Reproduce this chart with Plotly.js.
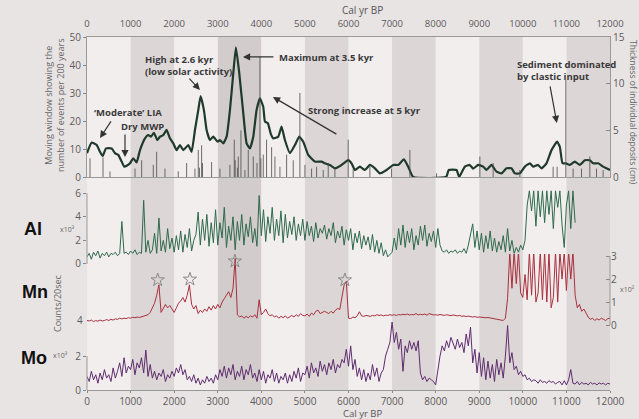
<!DOCTYPE html>
<html><head><meta charset="utf-8">
<script src="https://cdn.plot.ly/plotly-3.0.1.min.js"></script>
<style>html,body{margin:0;padding:0;background:#e9e4e4;}#chart{width:639px;height:419px;}</style>
</head><body><div id="chart"></div>
<script>
// ---------- DATA ----------
const tickYears = [0,1000,2000,3000,4000,5000,6000,7000,8000,9000,10000,11000,12000];
const tickLabels = ['0','1000','2000','3000','4000','5000','6000','7000','8000','9000','10000','11000','12000'];
const bandStarts = [1000,3000,5000,7000,9000,11000];
const lightStarts = [0,2000,4000,6000,8000,10000];

// Moving window: number of events per 200 years
const evYears = [0,107,222,298,360,436,566,642,718,795,855,910,986,1062,1138,1216,1330,1406,1468,1536,1613,1675,1750,1826,1903,1980,2056,2133,2209,2324,2400,2477,2553,2607,2683,2744,2821,2897,2998,3050,3127,3203,3280,3356,3417,3494,3586,3662,3738,3815,3891,3967,4044,4083,4151,4213,4274,4388,4464,4541,4656,4771,4870,4962,5076,5229,5382,5459,5573,5688,5841,5993,6070,6147,6261,6376,6491,6606,6720,6873,7026,7140,7271,7370,7484,8240,8300,8478,8540,8670,8784,8860,8975,9090,9167,9281,9396,9511,9625,9740,9817,9931,10046,10161,10238,10350,10428,10543,10658,10787,10849,10910,10986,11078,11193,11307,11422,11537,11613,11728,11842,11919,12000];
const evValues = [8.5,12.3,11.4,9,7.5,10.2,10.2,8.5,7.9,5.5,3.7,4,4.9,6.7,5.2,9.6,13.8,15,14.4,15.8,13.2,14.4,15,16.8,13.8,12,9.6,11.4,9.6,11.4,9,16.8,23.9,28.9,23.9,16.8,13.2,14.4,12.6,13.2,12,14.4,23.9,37,46.3,37,22.7,12,10.2,14.4,23.9,28.1,25.1,19.8,19.2,15.6,13.8,14.4,18,13.2,8.5,11.4,14.4,12.6,7.9,5.5,5.5,4.9,4.3,3.1,4.3,6,4.9,2.5,3.7,2.5,4.3,3.1,1.3,2.5,4.3,4.3,6.3,3.7,0,0,2.5,2.5,0,3.7,4.3,3,4.3,3.7,2.5,4.3,1.9,1.3,3.1,3.1,1.3,1.3,3.7,4.9,3.7,4.3,3.1,4.9,9.6,12.6,10.8,4.9,4.9,4.3,5.5,4.3,6,6,4.9,4.9,3.7,3.1,2.5];

// Thickness of individual deposits (cm)
const depYears = [69,367,527,1101,1254,1521,1598,1789,2094,2286,2477,2553,2580,2630,2650,2859,3050,3280,3379,3400,3450,3471,3532,3624,3700,3815,3900,3968,3990,4044,4120,4236,4312,4427,4580,4732,4885,5000,5153,5268,5420,5535,5688,5993,6108,6491,6988,7408,8020,9014,9319,9931,10695,10787,10986,11154,11346,11537,11690,11842];
const depCm = [2.0,2.1,0.6,0.9,1.8,1.3,2.7,0.9,0.6,1.5,0.9,2.9,1.0,3.4,1.5,1.6,0.9,1.3,4.0,1.8,1.0,2.2,5.0,0.75,2.9,2.2,1.5,12.9,2.0,2.4,4.0,3.2,2.2,1.1,2.4,1.8,9.0,1.3,0.9,1.1,0.75,1.5,0.9,4.0,0.9,1.1,0.9,2.9,0.4,2.2,1.5,0.75,1.1,1.1,10.4,0.9,0.9,2.2,0.9,0.75];

// XRF scans (counts/20sec)
const scanYears = [
0,50,100,150,200,250,300,350,400,450,
500,550,600,650,700,750,800,850,900,950,
1000,1050,1100,1150,1200,1250,1300,1350,1400,1450,
1500,1550,1600,1650,1700,1750,1800,1850,1900,1950,
2000,2050,2100,2150,2200,2250,2300,2350,2400,2450,
2500,2550,2600,2650,2700,2750,2800,2850,2900,2950,
3000,3050,3100,3150,3200,3250,3300,3350,3400,3450,
3500,3550,3600,3650,3700,3750,3800,3850,3900,3950,
4000,4050,4100,4150,4200,4250,4300,4350,4400,4450,
4500,4550,4600,4650,4700,4750,4800,4850,4900,4950,
5000,5050,5100,5150,5200,5250,5300,5350,5400,5450,
5500,5550,5600,5650,5700,5750,5800,5850,5900,5950,
6000,6050,6100,6150,6200,6250,6300,6350,6400,6450,
6500,6550,6600,6650,6700,6750,6800,6850,6900,6950,
7000,7050,7100,7150,7200,7250,7300,7350,7400,7450,
7500,7550,7600,7650,7700,7750,7800,7850,7900,7950,
8000,8050,8100,8150,8200,8250,8300,8350,8400,8450,
8500,8550,8600,8650,8700,8750,8800,8850,8900,8950,
9000,9050,9100,9150,9200,9250,9300,9350,9400,9450,
9500,9550,9600,9650,9700,9750,9800,9850,9900,9950,
10000,10050,10100,10150,10200,10250,10300,10350,10400,10450,
10500,10550,10600,10650,10700,10750,10800,10850,10900,10950,
11000,11050,11100,11150,11200,11250,11300,11350,11400,11450,
11500,11550,11600,11650,11700,11750,11800,11850,11900,11950,
12000];
const alValues = [
0.6,0.9,0.4,1.0,0.7,1.1,0.5,0.9,0.7,1.0,
0.6,0.9,0.8,1.0,0.7,0.9,3.6,0.9,1.0,0.8,
1.1,0.9,1.2,0.8,1.0,0.9,5.4,1.0,2.0,0.9,
1.2,2.6,0.9,3.9,1.1,2.0,1.0,3.0,1.3,2.2,
1.0,2.4,1.2,2.8,1.0,2.5,1.4,3.0,1.1,2.0,
2.5,4.4,1.6,3.8,2.0,4.2,1.5,3.5,1.8,4.6,
1.6,3.5,2.2,4.8,1.4,3.2,2.0,4.0,1.2,3.6,
2.0,4.2,1.6,3.4,2.3,4.0,1.8,3.0,1.5,5.8,
2.4,4.6,1.9,4.0,2.6,4.8,2.0,3.8,2.4,4.5,
1.8,4.2,2.2,3.6,2.5,4.0,2.0,3.4,2.4,3.8,
2.0,3.6,2.4,3.2,1.9,3.5,2.2,3.0,2.6,3.3,
2.1,3.0,2.4,3.5,1.8,2.8,2.2,3.2,1.6,2.9,
2.0,3.0,1.2,2.6,1.8,2.8,1.3,2.4,1.6,2.3,
1.2,2.5,1.0,2.0,0.9,1.8,0.7,1.2,0.6,0.8,
1.0,2.2,1.2,3.0,1.6,3.3,1.4,2.8,1.8,3.0,
1.2,2.4,1.6,3.2,2.0,3.3,1.5,2.6,1.9,2.8,
1.4,3.0,1.6,1.1,1.0,1.2,0.9,1.1,1.0,1.2,
0.9,1.1,1.0,1.3,0.9,1.6,2.4,3.4,1.4,2.8,
1.2,2.6,1.0,2.4,1.3,2.8,1.1,2.2,1.0,1.9,
1.2,2.4,1.0,3.0,1.1,2.0,0.9,1.4,1.0,1.6,
1.2,2.0,5.0,6.2,4.5,6.2,3.2,6.2,4.0,6.2,
3.5,6.2,4.2,6.2,3.0,6.2,4.8,6.2,3.3,1.4,
5.0,6.2,3.0,6.2,3.5,null,null,null,null,null,
null,null,null,null,null,null,null,null,null,null,
null];
const mnValues = [
0.2,0.18,0.22,0.15,0.2,0.17,0.22,0.18,0.2,0.24,
0.2,0.25,0.22,0.27,0.25,0.3,0.27,0.3,0.28,0.32,
0.3,0.34,0.32,0.35,0.33,0.36,0.38,0.4,0.45,0.55,
0.75,0.95,1.3,1.75,0.55,0.7,0.9,0.75,0.85,0.7,
0.55,0.75,0.95,1.05,1.2,1.0,1.3,1.75,0.9,0.7,
0.85,0.5,0.65,0.55,0.7,0.6,0.8,0.65,0.85,0.7,
0.9,0.75,1.0,1.15,1.3,1.45,1.2,1.6,2.9,0.45,
0.35,0.4,0.3,0.38,0.32,0.4,0.35,0.45,0.3,1.1,
0.45,0.55,0.7,0.5,0.4,0.45,0.35,0.4,0.3,0.38,
0.32,0.4,0.3,0.36,0.42,0.35,0.45,0.38,0.5,0.42,
0.4,0.48,0.38,0.52,0.45,0.6,0.65,0.5,0.55,0.6,
0.55,0.5,0.6,0.52,0.65,0.72,0.68,1.3,1.75,1.9,
0.3,0.28,0.35,0.32,0.4,0.58,0.4,0.38,0.42,0.4,
0.38,0.42,0.4,0.45,0.42,0.44,0.4,0.43,0.42,0.45,
0.43,0.45,0.42,0.46,0.44,0.47,0.45,0.48,0.44,0.46,
0.45,0.5,0.44,0.47,0.45,0.48,0.43,0.5,0.46,0.44,
0.45,0.43,0.46,0.44,0.42,0.45,0.43,0.41,0.44,0.42,
0.4,0.42,0.38,0.4,0.37,0.39,0.36,0.35,0.37,0.34,
0.35,0.33,0.34,0.32,0.33,0.31,0.32,0.3,0.28,0.26,
0.22,0.2,0.3,1.16,3.2,1.6,3.2,1.8,3.2,1.4,
1.2,2.2,1.1,3.2,1.3,3.2,1.0,1.4,3.2,1.1,
3.2,1.0,3.2,0.75,1.2,3.2,1.0,3.2,2.0,3.2,
1.5,3.2,2.0,3.2,1.3,0.75,0.9,0.6,0.7,0.5,
0.35,0.25,0.3,0.2,0.28,0.22,0.3,0.25,0.2,0.28,
0.3];
const moValues = [
0.8,0.5,1.1,0.6,0.9,0.4,1.0,0.6,1.2,0.7,
0.9,0.5,1.3,0.7,1.1,1.6,0.8,1.9,1.0,1.4,
1.2,1.8,0.9,1.6,1.3,1.9,1.0,2.35,0.8,1.5,
0.7,1.1,0.6,1.0,0.8,1.2,0.5,0.9,0.7,1.1,
0.8,1.3,1.0,1.5,0.9,1.2,0.6,0.8,0.5,0.9,
0.4,0.7,0.3,0.6,0.4,0.8,0.5,0.7,0.4,0.9,
0.6,1.2,0.8,1.4,0.7,1.3,0.9,1.5,0.6,1.1,
0.8,1.4,0.6,1.2,0.9,1.5,0.7,1.0,0.5,1.2,
0.6,1.1,0.4,0.9,0.7,1.2,0.5,1.0,0.4,0.8,
0.6,1.0,0.4,0.9,0.5,1.1,0.7,1.3,0.5,1.0,
0.9,1.4,0.7,1.6,1.0,1.3,0.8,1.7,1.1,1.5,
0.9,1.6,1.2,1.8,1.0,1.5,1.3,1.8,1.6,2.4,
1.4,2.6,1.2,1.8,0.8,1.3,0.6,1.2,0.5,1.0,
0.6,1.5,0.8,1.3,0.5,1.0,1.2,2.0,2.4,2.8,
4.0,2.8,3.4,2.4,3.0,1.1,2.6,2.2,2.9,2.4,
2.8,2.3,2.9,1.0,0.6,0.8,0.5,0.7,0.6,0.5,
0.3,1.2,2.0,2.6,2.3,2.9,2.5,3.1,2.7,2.4,
3.0,2.5,2.8,2.2,3.3,2.6,3.7,1.6,2.4,1.0,
2.2,0.8,1.9,0.6,1.7,0.7,1.5,0.5,1.8,0.9,
1.6,0.7,2.0,3.8,1.6,2.2,1.2,1.4,0.9,1.1,
0.8,0.9,0.6,0.7,0.5,0.6,0.55,0.4,0.6,0.45,
0.5,0.4,0.55,0.45,0.5,0.35,0.45,0.5,0.3,0.55,
0.3,0.6,1.2,0.4,0.35,0.5,0.3,0.45,0.35,0.4,
0.3,0.45,0.35,0.4,0.3,0.42,0.35,0.4,0.3,0.4,
0.35];

// Mn peaks marked with stars
const starYears = [1622,2362,3394,5917];
const starMn = [1.96,1.99,2.78,1.96];

// ---------- CHART ----------
const W = 639, H = 419;
const fx = p => p / W;
const fy = p => 1 - p / H;

const depX = [], depY = [];
depYears.forEach((yr, i) => { depX.push(yr, yr, null); depY.push(0, depCm[i], null); });

const traces = [
  {x: depX, y: depY, xaxis: 'x2', yaxis: 'y2', mode: 'lines', line: {color: '#4a4a4a', width: 0.8}, hoverinfo: 'skip'},
  {x: evYears, y: evValues, xaxis: 'x2', yaxis: 'y', mode: 'lines', line: {color: '#1f3a2b', width: 2.2, shape: 'spline', smoothing: 0.4}},
  {x: scanYears, y: mnValues, xaxis: 'x', yaxis: 'y4', mode: 'lines', line: {color: '#a8303e', width: 1}, connectgaps: false},
  {x: scanYears, y: alValues, xaxis: 'x', yaxis: 'y3', mode: 'lines', line: {color: '#2f6a4c', width: 1}, connectgaps: false},
  {x: scanYears, y: moValues, xaxis: 'x', yaxis: 'y5', mode: 'lines', line: {color: '#5e2c6e', width: 1}},
  {x: starYears, y: starMn, xaxis: 'x', yaxis: 'y4', mode: 'markers', marker: {symbol: 'star-open', size: 10, color: '#8a8a8a', line: {width: 1}}}
];

const shapes = [];
bandStarts.forEach(b => shapes.push({type: 'rect', xref: 'x', yref: 'paper', x0: b, x1: b + 1000, y0: fy(390), y1: fy(37), fillcolor: b === 3000 ? '#d2cccc' : '#dcd6d6', line: {width: 0}, layer: 'below'}));
lightStarts.forEach(b => shapes.push({type: 'rect', xref: 'x', yref: 'paper', x0: b, x1: b + 1000, y0: fy(390), y1: fy(37), fillcolor: '#f2eeee', line: {width: 0}, layer: 'below'}));
// short axis lines for the stacked scan panels
shapes.push({type: 'line', xref: 'paper', yref: 'y3', x0: fx(87), x1: fx(87), y0: 0, y1: 6, line: {color: '#999', width: 1}});
shapes.push({type: 'line', xref: 'paper', yref: 'y5', x0: fx(87), x1: fx(87), y0: 0, y1: 2, line: {color: '#999', width: 1}});
shapes.push({type: 'line', xref: 'paper', yref: 'y4', x0: fx(610), x1: fx(610), y0: 0, y1: 3, line: {color: '#999', width: 1}});

const bold = {family: 'Open Sans, sans-serif', size: 9.5, color: '#3a3a3a', weight: 700};
function txt(t, xp, yp, opts) {
  return Object.assign({text: t, xref: 'paper', yref: 'paper', x: fx(xp), y: fy(yp), showarrow: false, xanchor: 'left', yanchor: 'middle', font: bold}, opts || {});
}
function arrow(tx, ty, hx, hy) {
  return {text: '', xref: 'x2', yref: 'y', axref: 'x2', ayref: 'y', x: hx, y: hy, ax: tx, ay: ty, showarrow: true, arrowhead: 2, arrowsize: 1.2, arrowwidth: 1.2, arrowcolor: '#333'};
}
const tickFont = {family: 'Open Sans, sans-serif', size: 10, color: '#5a5a5a'};

const annotations = [
  txt('\u2018Moderate\u2019 LIA', 92, 112),
  txt('Dry MWP', 119, 127),
  txt('High at 2.6 kyr<br>(low solar activity)', 143, 66, {align: 'left'}),
  txt('Maximum at 3.5 kyr', 277, 57),
  txt('Strong increase at 5 kyr', 306, 110),
  txt('Sediment dominated<br>by clastic input', 515, 70, {align: 'left'}),
  arrow(573, 20.4, 298, 13.9),
  arrow(872, 15.7, 872, 7.1),
  arrow(2317, 35.7, 2592, 31.1),
  arrow(4312, 42.9, 3578, 42.9),
  arrow(5757, 15, 4266, 28.6),
  arrow(10619, 32.9, 10780, 19.3),
  // axis titles
  txt('Cal yr BP', 362, 10, {xanchor: 'center', font: {family: 'Open Sans, sans-serif', size: 10, color: '#555'}}),
  txt('Cal yr BP', 362, 413, {xanchor: 'center', font: {family: 'Open Sans, sans-serif', size: 9.5, color: '#555'}}),
  txt('Moving window showing the<br>number of events per 200 years', 54, 105, {xanchor: 'center', textangle: -90, font: {family: 'Open Sans, sans-serif', size: 9, color: '#666'}}),
  txt('Thickness of individual deposits (cm)', 634, 112, {xanchor: 'center', textangle: 90, font: {family: 'Open Sans, sans-serif', size: 8.5, color: '#666'}}),
  txt('Counts/20sec', 57, 303, {xanchor: 'center', textangle: -90, font: {family: 'Open Sans, sans-serif', size: 9, color: '#666'}}),
  // element labels
  txt('Al', 33, 229, {xanchor: 'center', font: {family: 'Liberation Sans, Arial, sans-serif', size: 18, color: '#111', weight: 700}}),
  txt('Mn', 35, 292, {xanchor: 'center', font: {family: 'Liberation Sans, Arial, sans-serif', size: 18, color: '#111', weight: 700}}),
  txt('Mo', 34, 358, {xanchor: 'center', font: {family: 'Liberation Sans, Arial, sans-serif', size: 18, color: '#111', weight: 700}}),
  txt('x10\u00b3', 67, 229, {xanchor: 'center', font: {family: 'Open Sans, sans-serif', size: 7, color: '#666'}}),
  txt('x10\u00b3', 60, 355, {xanchor: 'center', font: {family: 'Open Sans, sans-serif', size: 7, color: '#666'}}),
  txt('x10\u00b2', 627, 289, {xanchor: 'center', font: {family: 'Open Sans, sans-serif', size: 7, color: '#666'}}),
  txt('4', 80, 320, {xanchor: 'center', font: tickFont})
];

const common = {showgrid: false, zeroline: false, tickfont: tickFont, tickcolor: '#888', linecolor: '#999', linewidth: 1};
const layout = {
  width: W, height: H, margin: {l: 0, r: 0, t: 0, b: 0},
  paper_bgcolor: '#e9e4e4', plot_bgcolor: 'rgba(0,0,0,0)', showlegend: false,
  font: {family: 'Open Sans, sans-serif', size: 10, color: '#555'},
  xaxis: Object.assign({}, common, {domain: [fx(87), fx(610)], range: [0, 12000], anchor: 'y5', tickvals: tickYears, ticktext: tickLabels, ticks: 'outside', ticklen: 2, showline: true}),
  xaxis2: Object.assign({}, common, {domain: [fx(87), fx(610)], range: [0, 12000], anchor: 'y', side: 'top', tickvals: tickYears, ticktext: tickLabels, ticks: '', ticklabelstandoff: 5, tickfont: {family: 'Open Sans, sans-serif', size: 9.5, color: '#5a5a5a'}, showline: true, mirror: true}),
  yaxis: Object.assign({}, common, {domain: [fy(177), fy(37)], range: [0, 50], anchor: 'x2', tickvals: [0, 10, 20, 30, 40, 50], ticks: 'outside', ticklen: 3, showline: true}),
  yaxis2: Object.assign({}, common, {domain: [fy(177), fy(37)], range: [0, 15], anchor: 'x2', overlaying: 'y', side: 'right', tickvals: [0, 5, 10, 15], ticks: 'inside', ticklen: 4, showline: true}),
  yaxis3: Object.assign({}, common, {domain: [fy(270), fy(190)], range: [-0.51, 6.27], anchor: 'x', tickvals: [0, 2, 4, 6], ticks: 'outside', ticklen: 3, showline: false}),
  yaxis4: Object.assign({}, common, {domain: [fy(332), fy(254)], range: [-0.30, 3.09], anchor: 'x', side: 'right', tickvals: [0, 1, 2, 3], ticks: 'inside', ticklen: 4, showline: false}),
  yaxis5: Object.assign({}, common, {domain: [fy(390), fy(318)], range: [0, 4.24], anchor: 'x', tickvals: [0, 2], ticks: 'outside', ticklen: 3, showline: false}),
  shapes: shapes,
  annotations: annotations
};

Plotly.newPlot('chart', traces, layout, {staticPlot: true, displayModeBar: false});
</script>
</body></html>
